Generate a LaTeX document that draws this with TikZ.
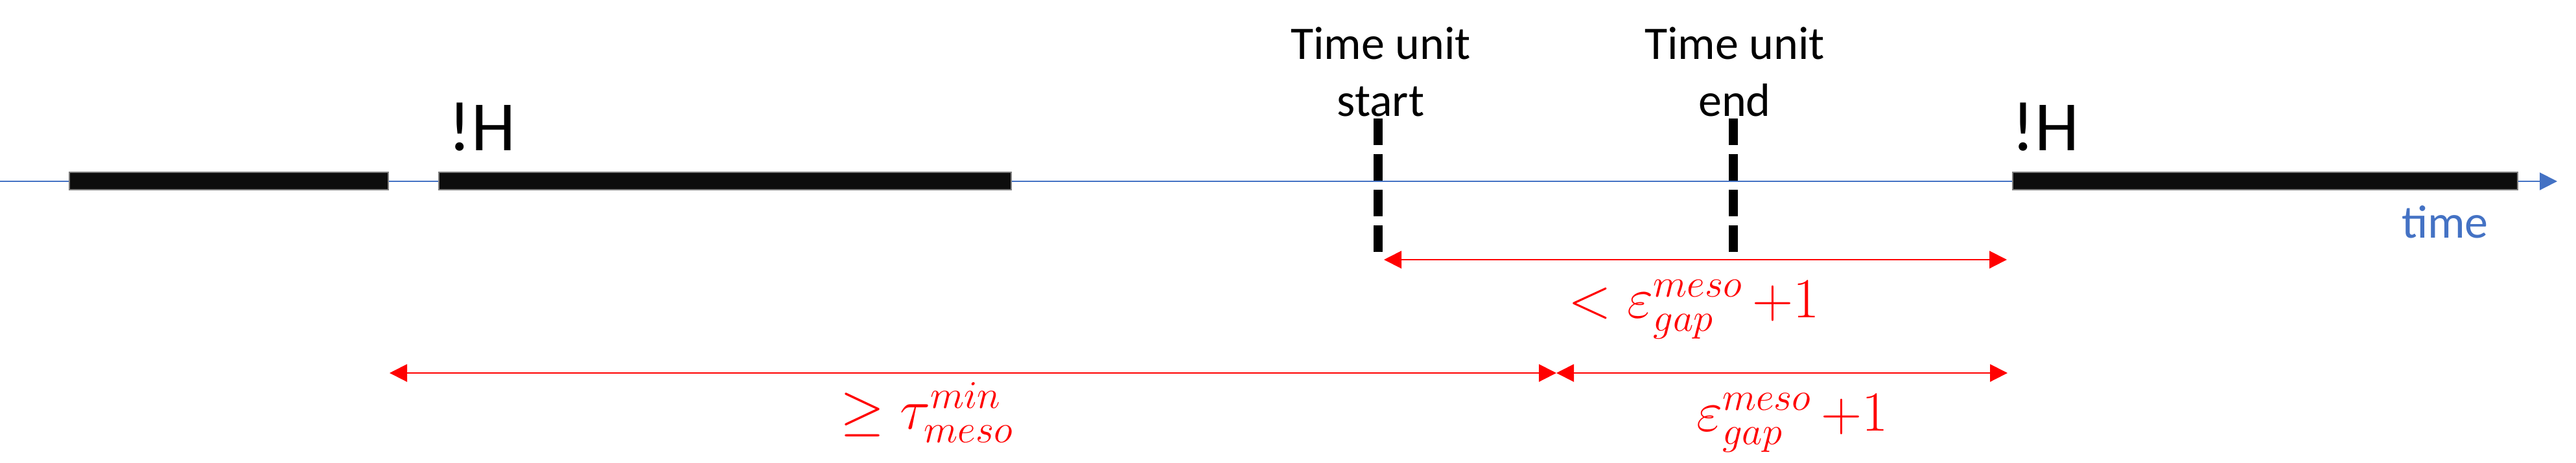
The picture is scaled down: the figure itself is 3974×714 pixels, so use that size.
\documentclass[tikz,border=0pt]{standalone}
\usepackage{fontspec}
\setmainfont{Carlito}
\usetikzlibrary{arrows.meta}
\definecolor{axisblue}{HTML}{4472C4}
\definecolor{barblack}{HTML}{0D0D0D}
\definecolor{bargray}{HTML}{7F7F7F}
\definecolor{measred}{HTML}{FF0000}
\tikzset{
  axis/.style={draw=axisblue, line width=0.57pt, -{Triangle[length=0.27cm,width=0.27cm]}},
  hbar/.style={fill=barblack, draw=bargray, line width=0.4pt},
  tickline/.style={draw=black, line width=0.14cm, dash pattern=on 0.41cm off 0.14cm},
  meas/.style={draw=measred, line width=0.57pt, {Triangle[length=0.27cm,width=0.27cm]}-{Triangle[length=0.27cm,width=0.27cm]}},
  bigtxt/.style={font=\fontsize{31}{37}\selectfont, inner sep=0pt},
  lbl/.style={font=\fontsize{20.5}{25}\selectfont, align=center, inner sep=0pt},
  timelbl/.style={font=\fontsize{20.5}{25}\selectfont, text=axisblue, inner sep=0pt},
  mathlbl/.style={text=measred, font=\fontsize{25}{30}\selectfont, inner sep=0pt}
}
\begin{document}
\begin{tikzpicture}[x=0.01cm,y=-0.01cm]
\useasboundingbox (0,0) rectangle (3974,714);
% timeline
\coordinate (axL) at (0,280);
\coordinate (axR) at (3945,280);
\draw[axis] (axL) -- (axR);
% bars
\path[hbar] (107,266) rectangle (599,293);
\path[hbar] (677,266) rectangle (1560,293);
\path[hbar] (3105,266) rectangle (3884,293);
% time unit ticks
\coordinate (tsTop) at (2126,183);
\coordinate (tsBot) at (2126,390);
\coordinate (teTop) at (2674,183);
\coordinate (teBot) at (2674,390);
\draw[tickline] (tsTop) -- (tsBot);
\draw[tickline] (teTop) -- (teBot);
% labels
\node[bigtxt, anchor=base west] (h1) at (691,232) {!H};
\node[bigtxt, anchor=base west] (h2) at (3103,232) {!H};
\node[lbl, anchor=base] (tus) at (2130,179) {Time unit\\start};
\node[lbl, anchor=base] (tue) at (2676,179) {Time unit\\end};
\node[timelbl, anchor=base] (time) at (3772,367) {time};
% measurement arrows
\coordinate (m1L) at (2135,401);
\coordinate (m1R) at (3096,401);
\draw[meas] (m1L) -- (m1R);
\coordinate (m2L) at (601,576);
\coordinate (m2M) at (2401,576);
\coordinate (m2R) at (3097,576);
\draw[meas] (m2L) -- (m2M);
\draw[meas] (m2M) -- (m2R);
% measurement labels
\node[mathlbl, anchor=base] (l1) at (2613,490) {$<\varepsilon^{meso}_{gap}\,{+}1$};
\node[mathlbl, anchor=base] (l2) at (2765,665) {$\varepsilon^{meso}_{gap}\,{+}1$};
\node[mathlbl, anchor=base] (l3) at (1430,662) {$\geq\tau^{min}_{meso}$};
\end{tikzpicture}
\end{document}
